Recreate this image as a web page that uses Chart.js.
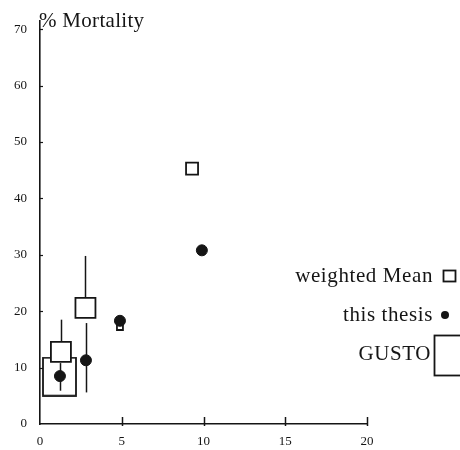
<!DOCTYPE html>
<html>
<head>
<meta charset="utf-8">
<script src="https://cdn.jsdelivr.net/npm/chart.js@4"></script>
<style>
  html, body { margin: 0; padding: 0; background: #fff; }
  #wrap { width: 460px; height: 450px; position: relative; }
</style>
</head>
<body>
<div id="wrap"><canvas id="mortChart"></canvas></div>
<script>
// % mortality vs. x
const gustoX = [1.19];
const gustoY = [8.4];

const meanX = [1.28, 2.78, 4.89, 9.3];
const meanY = [12.8, 20.6, 17.2, 45.3];
const meanLow = [12.8, 20.6, 17.2, 45.3];
const meanHigh = [18.5, 29.8, 17.2, 45.3];
const meanSide = [20, 20, 6, 12];

const thesisX = [1.22, 2.81, 4.89, 9.9];
const thesisY = [8.5, 11.3, 18.3, 30.8];
const thesisLow = [5.9, 5.6, 18.3, 30.8];
const thesisHigh = [10.8, 17.9, 18.3, 30.8];

const xTicks = [0, 5, 10, 15, 20];
const yTicks = [0, 10, 20, 30, 40, 50, 60, 70];

const SERIF = '"Liberation Serif", "DejaVu Serif", serif';
const INK = '#151515';

// open box used as the GUSTO marker
const gustoBox = document.createElement('canvas');
gustoBox.width = 35;
gustoBox.height = 40;
(function () {
  const c = gustoBox.getContext('2d');
  c.strokeStyle = INK;
  c.lineWidth = 1.8;
  c.strokeRect(1, 1, 33, 38);
})();

const pts = (xs, ys) => xs.map((x, i) => ({ x, y: ys[i] }));

// vertical whiskers under the markers
const whiskers = {
  id: 'whiskers',
  beforeDatasetsDraw(chart) {
    const { ctx, scales: { x, y } } = chart;
    ctx.save();
    ctx.strokeStyle = INK;
    ctx.lineWidth = 1.5;
    const draw = (xs, lo, hi) => xs.forEach((v, i) => {
      if (lo[i] === hi[i]) return;
      const px = Math.round(x.getPixelForValue(v)) + 0.5;
      ctx.beginPath();
      ctx.moveTo(px, y.getPixelForValue(lo[i]));
      ctx.lineTo(px, y.getPixelForValue(hi[i]));
      ctx.stroke();
    });
    draw(meanX, meanLow, meanHigh);
    draw(thesisX, thesisLow, thesisHigh);
    ctx.restore();
  }
};

// inward tick marks, title and the legend on the right
const decor = {
  id: 'decor',
  afterDraw(chart) {
    const { ctx, scales: { x, y } } = chart;
    const x0 = x.getPixelForValue(0);
    const y0 = y.getPixelForValue(0);
    ctx.save();
    ctx.strokeStyle = INK;
    ctx.lineWidth = 1.5;
    xTicks.slice(1).forEach(v => {
      const px = Math.round(x.getPixelForValue(v)) + 0.5;
      ctx.beginPath();
      ctx.moveTo(px, y0 - 7);
      ctx.lineTo(px, y0 + 2);
      ctx.stroke();
    });
    ctx.lineWidth = 1.2;
    yTicks.slice(1).forEach(v => {
      const py = Math.round(y.getPixelForValue(v)) + 0.5;
      ctx.beginPath();
      ctx.moveTo(x0, py);
      ctx.lineTo(x0 + 3, py);
      ctx.stroke();
    });

    ctx.fillStyle = INK;
    ctx.textBaseline = 'middle';
    ctx.textAlign = 'left';
    ctx.font = '21px ' + SERIF;
    ctx.letterSpacing = '0.3px';
    ctx.fillText('% Mortality', 39, 21);

    ctx.letterSpacing = '0.6px';
    ctx.textAlign = 'right';
    ctx.fillText('weighted Mean', 433, 276);
    ctx.fillText('this thesis', 433, 315);
    ctx.fillText('GUSTO', 431, 354);
    ctx.letterSpacing = '0px';

    ctx.lineWidth = 1.8;
    ctx.strokeRect(443.5, 270.5, 12, 11);
    ctx.beginPath();
    ctx.arc(445, 315, 4, 0, Math.PI * 2);
    ctx.fill();
    ctx.strokeRect(434.5, 335.5, 40, 40);
    ctx.restore();
  }
};

new Chart(document.getElementById('mortChart'), {
  type: 'scatter',
  data: {
    datasets: [
      {
        label: 'this thesis',
        data: pts(thesisX, thesisY),
        pointStyle: 'circle',
        pointRadius: 5.5,
        backgroundColor: INK,
        borderColor: INK,
        borderWidth: 1,
        order: 0
      },
      {
        label: 'weighted Mean',
        data: pts(meanX, meanY),
        pointStyle: 'rect',
        pointRadius: meanSide.map(s => s / Math.SQRT2),
        backgroundColor: '#fff',
        borderColor: INK,
        borderWidth: 1.8,
        order: 1
      },
      {
        label: 'GUSTO',
        data: pts(gustoX, gustoY),
        pointStyle: gustoBox,
        order: 2
      }
    ]
  },
  options: {
    responsive: true,
    maintainAspectRatio: false,
    animation: false,
    events: [],
    layout: { padding: { top: 13, right: 93, left: 0, bottom: 0 } },
    plugins: {
      legend: { display: false },
      tooltip: { enabled: false },
      title: { display: false }
    },
    scales: {
      x: {
        type: 'linear',
        min: 0,
        max: 20,
        afterBuildTicks: s => { s.ticks = xTicks.map(v => ({ value: v })); },
        afterFit: s => { s.height = 26; },
        border: { color: INK, width: 1.6 },
        grid: { display: true, drawOnChartArea: false, drawTicks: false },
        ticks: { color: INK, padding: 10, font: { family: SERIF, size: 13 } }
      },
      y: {
        type: 'linear',
        min: 0,
        max: 71.5,
        afterBuildTicks: s => { s.ticks = yTicks.map(v => ({ value: v })); },
        afterFit: s => { s.width = 40; },
        border: { color: INK, width: 1.6 },
        grid: { display: true, drawOnChartArea: false, drawTicks: false },
        ticks: { color: INK, padding: 13, font: { family: SERIF, size: 13 } }
      }
    }
  },
  plugins: [whiskers, decor]
});
</script>
</body>
</html>
